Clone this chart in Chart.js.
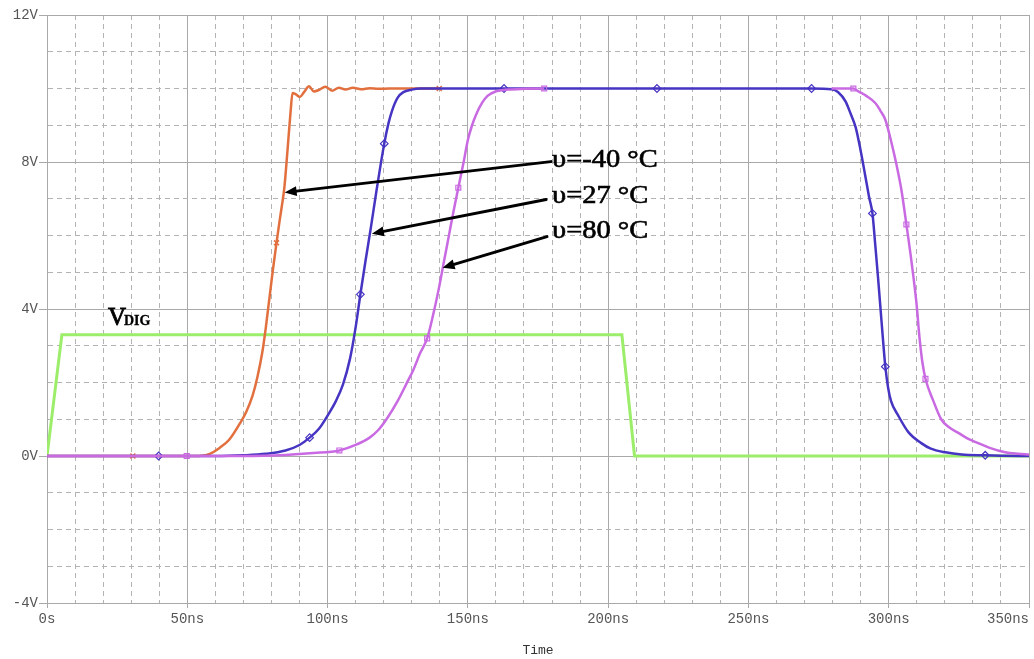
<!DOCTYPE html>
<html>
<head>
<meta charset="utf-8">
<script src="https://cdn.jsdelivr.net/npm/chart.js@4/dist/chart.umd.min.js"></script>
<style>
  html, body { margin: 0; padding: 0; background: #ffffff; }
  #wrap { width: 1034px; height: 659px; position: relative; }
</style>
</head>
<body>
<div id="wrap"><canvas id="scope" width="1034" height="659"></canvas></div>
<script>
// Transient output voltage (V) vs time (ns) at three temperatures, plus the digital drive signal.
const timeCold = [0, 30.6, 50, 55, 58, 61.5, 65, 68.7, 71, 73.3, 75, 76.8, 78, 79.2, 80.4, 81.8, 82.9, 83.8, 84.6, 85.7, 86.8, 87.5, 88.7, 90.1, 91.6, 93.4, 95.1, 96.9, 99.2, 101.6, 104, 106.4, 109, 112, 115, 118, 122, 130, 139.8];
const voltCold = [0, 0, 0, 0.01, 0.06, 0.22, 0.45, 0.88, 1.2, 1.65, 2.15, 2.85, 3.5, 4.25, 5.0, 5.8, 6.4, 6.85, 7.3, 8.3, 9.35, 9.88, 9.84, 9.77, 9.9, 10.06, 9.92, 9.96, 10.05, 9.94, 10.02, 9.97, 10.02, 9.98, 10.01, 9.99, 10.0, 10.0, 10.0];

const timeRoom = [0, 39.8, 60, 70, 78, 85, 90, 93.6, 97, 100, 103, 105.5, 108, 110, 111.7, 113.5, 115.4, 117.5, 120.2, 121.7, 123, 125, 127, 130, 133, 162.9, 217.4, 272.5, 279.6, 282, 284.6, 286.5, 288.2, 289.9, 291.7, 293, 294.2, 295.2, 296.2, 297.4, 298.8, 299.8, 300.8, 303.4, 307, 311.6, 315, 320.2, 326, 334.4, 340, 350];
const voltRoom = [0, 0, 0, 0.02, 0.06, 0.15, 0.3, 0.5, 0.75, 1.1, 1.5, 1.95, 2.65, 3.5, 4.4, 5.3, 6.2, 7.25, 8.5, 9.05, 9.4, 9.75, 9.9, 9.97, 10, 10, 10, 10, 9.98, 9.9, 9.65, 9.3, 8.95, 8.35, 7.6, 7.05, 6.6, 5.75, 4.85, 3.7, 2.43, 1.85, 1.5, 1.1, 0.65, 0.35, 0.2, 0.1, 0.04, 0.02, 0.01, 0];

const timeHot = [0, 49.8, 70, 85, 95, 104.2, 110, 115, 118, 121, 125, 128, 130.6, 133, 135.5, 137.5, 139.5, 141.5, 143, 145, 146.6, 148.5, 150, 151.5, 153, 155, 157, 160, 164.4, 170, 177.2, 279.6, 287.4, 289.2, 292, 295.3, 297, 298.8, 300.9, 302.7, 304.5, 306.3, 308.1, 309.9, 311.0, 312.0, 313.1, 315.9, 318.7, 321.5, 324.8, 328, 331.9, 336, 341.5, 346, 350];
const voltHot = [0, 0, 0, 0.03, 0.08, 0.15, 0.3, 0.5, 0.7, 1.0, 1.5, 1.95, 2.35, 2.8, 3.2, 3.8, 4.5, 5.3, 5.9, 6.7, 7.3, 8.0, 8.6, 9.0, 9.3, 9.6, 9.8, 9.92, 9.97, 9.99, 10, 10, 10, 9.92, 9.8, 9.6, 9.4, 9.15, 8.55, 7.95, 7.25, 6.3, 5.3, 4.15, 3.2, 2.55, 2.1, 1.5, 1.0, 0.78, 0.63, 0.48, 0.35, 0.22, 0.1, 0.06, 0.04];

const timeDig = [0, 5.3, 204.9, 209.4, 350];
const voltDig = [0, 3.3, 3.3, 0, 0];

// Simulator sample markers (ns)
const markCold = [30.6, 81.8, 139.8];
const markRoom = [39.8, 93.6, 111.7, 120.2, 162.9, 217.4, 272.5, 294.2, 298.8, 334.4];
const markHot = [49.8, 104.2, 135.5, 146.6, 177.2, 287.4, 306.3, 313.1];

// Axis tick text
const xTickText = ['0s', '50ns', '100ns', '150ns', '200ns', '250ns', '300ns', '350ns'];
const yTickText = ['-4V', '0V', '4V', '8V', '12V'];

// Temperature callouts: text, label anchor (ns, V), arrow tail and tip (ns, V)
const tempText = ['υ=-40 °C', 'υ=27 °C', 'υ=80 °C'];
const tempAnchorT = [180.0, 180.0, 180.0];
const tempAnchorV = [8.04, 7.06, 6.10];
const arrowTailT = [179.6, 177.9, 178.2];
const arrowTailV = [8.01, 6.98, 5.97];
const arrowTipT = [84.7, 115.8, 141.0];
const arrowTipV = [7.17, 6.05, 5.12];

const digLabelT = 21.7;
const digLabelV = 3.57;

const MONO = '"Liberation Mono", "Courier New", monospace';
const SERIF = '"Liberation Serif", "Times New Roman", serif';

const zip = (ts, vs) => ts.map((t, i) => ({ x: t, y: vs[i] }));
const markerRadius = (marks, r) => ctx => (ctx.raw && marks.includes(ctx.raw.x)) ? r : 0;

const COLD = '#e2703f';
const ROOM = '#4634c2';
const HOT = '#c96ae2';
const DIG = '#9cee6a';

// Filled + lightly stroked text, for a slightly heavier serif look
function heavyText(ctx, str, x, y) {
  ctx.fillText(str, x, y);
  ctx.strokeText(str, x, y);
}

const callouts = {
  id: 'callouts',
  afterDatasetsDraw(chart) {
    const { ctx, scales: { x, y } } = chart;
    ctx.save();
    // arrows
    ctx.strokeStyle = '#000';
    ctx.fillStyle = '#000';
    ctx.lineWidth = 3;
    ctx.lineCap = 'round';
    for (let i = 0; i < tempText.length; i++) {
      const x0 = x.getPixelForValue(arrowTailT[i]);
      const y0 = y.getPixelForValue(arrowTailV[i]);
      const x1 = x.getPixelForValue(arrowTipT[i]);
      const y1 = y.getPixelForValue(arrowTipV[i]);
      const ang = Math.atan2(y1 - y0, x1 - x0);
      const headLen = 12, headHalf = 5;
      const bx = x1 - headLen * Math.cos(ang);
      const by = y1 - headLen * Math.sin(ang);
      ctx.beginPath();
      ctx.moveTo(x0, y0);
      ctx.lineTo(bx, by);
      ctx.stroke();
      ctx.beginPath();
      ctx.moveTo(x1, y1);
      ctx.lineTo(bx + headHalf * Math.sin(ang), by - headHalf * Math.cos(ang));
      ctx.lineTo(bx - headHalf * Math.sin(ang), by + headHalf * Math.cos(ang));
      ctx.closePath();
      ctx.fill();
    }
    // temperature labels
    ctx.lineWidth = 0.6;
    ctx.lineCap = 'butt';
    ctx.textBaseline = 'middle';
    ctx.textAlign = 'left';
    ctx.font = '25px ' + SERIF;
    for (let i = 0; i < tempText.length; i++) {
      const px = x.getPixelForValue(tempAnchorT[i]);
      const py = y.getPixelForValue(tempAnchorV[i]);
      ctx.save();
      ctx.translate(px, py);
      ctx.scale(1.14, 1);
      heavyText(ctx, tempText[i], 0, 0);
      ctx.restore();
    }
    // V_DIG label
    const dx = x.getPixelForValue(digLabelT);
    const dy = y.getPixelForValue(digLabelV);
    ctx.textBaseline = 'alphabetic';
    ctx.font = '25px ' + SERIF;
    ctx.lineWidth = 0.8;
    heavyText(ctx, 'V', dx, dy);
    const vw = ctx.measureText('V').width;
    ctx.font = 'bold 14px ' + SERIF;
    ctx.lineWidth = 0.3;
    heavyText(ctx, 'DIG', dx + vw - 2, dy);
    ctx.restore();
  }
};

const isMajorX = v => Math.abs(v % 50) < 1e-6;
const isMajorY = v => Math.abs(((v % 4) + 4) % 4) < 1e-6;

new Chart(document.getElementById('scope'), {
  type: 'line',
  data: {
    datasets: [
      {
        label: 'υ=80 °C',
        data: zip(timeHot, voltHot),
        borderColor: HOT,
        borderWidth: 2.5,
        cubicInterpolationMode: 'monotone',
        pointStyle: 'rect',
        pointRadius: markerRadius(markHot, 3.5),
        pointBorderColor: HOT,
        pointBackgroundColor: 'rgba(255,255,255,0)',
        pointBorderWidth: 1.2,
        segment: {
          // plateau shared with the 27 °C trace is left to that trace
          borderColor: s => (s.p0.parsed.x >= 177 && s.p1.parsed.x <= 280) ? 'rgba(0,0,0,0)' : HOT
        }
      },
      {
        label: 'υ=27 °C',
        data: zip(timeRoom, voltRoom),
        borderColor: ROOM,
        borderWidth: 2.5,
        cubicInterpolationMode: 'monotone',
        pointStyle: 'rectRot',
        pointRadius: markerRadius(markRoom, 3.8),
        pointBorderColor: ROOM,
        pointBackgroundColor: 'rgba(255,255,255,0)',
        pointBorderWidth: 1.2
      },
      {
        label: 'υ=-40 °C',
        data: zip(timeCold, voltCold),
        borderColor: COLD,
        borderWidth: 2.5,
        cubicInterpolationMode: 'monotone',
        pointStyle: 'crossRot',
        pointRadius: markerRadius(markCold, 3.5),
        pointBorderColor: COLD,
        pointBorderWidth: 1.5
      },
      {
        label: 'VDIG',
        data: zip(timeDig, voltDig),
        borderColor: DIG,
        borderWidth: 3,
        tension: 0,
        pointRadius: 0
      }
    ]
  },
  options: {
    responsive: false,
    animation: false,
    devicePixelRatio: 1,
    events: [],
    layout: { padding: { top: 15, right: 3, left: 0, bottom: 0 } },
    plugins: { legend: { display: false }, tooltip: { enabled: false } },
    elements: { point: { hoverRadius: 0 } },
    scales: {
      x: {
        type: 'linear',
        min: 0,
        max: 350,
        ticks: {
          stepSize: 10,
          autoSkip: false,
          maxRotation: 0,
          minRotation: 0,
          padding: 3,
          color: '#555',
          font: { family: MONO, size: 14 },
          callback: v => {
            if (!isMajorX(v)) return '';
            const s = xTickText[Math.round(v / 50)];
            return v >= 350 ? s + '     ' : s;
          }
        },
        grid: {
          color: c => (c.tick && isMajorX(c.tick.value)) ? '#a9a9a9' : '#b3b3b3',
          lineWidth: 1,
          tickLength: 5,
          tickColor: c => (c.tick && isMajorX(c.tick.value)) ? '#a9a9a9' : 'rgba(0,0,0,0)'
        },
        border: {
          display: true,
          color: '#a9a9a9',
          dash: c => (c.tick && !isMajorX(c.tick.value)) ? [5, 4] : []
        },
        title: {
          display: true,
          text: 'Time',
          color: '#333',
          font: { family: MONO, size: 13 },
          padding: { top: 0, bottom: 1 }
        },
        afterFit: s => { s.height = 56; s.paddingLeft = 0; s.paddingRight = 0; }
      },
      y: {
        type: 'linear',
        min: -4,
        max: 12,
        ticks: {
          stepSize: 1,
          autoSkip: false,
          padding: 1,
          color: '#555',
          font: { family: MONO, size: 14 },
          callback: v => isMajorY(v) ? yTickText[Math.round((v + 4) / 4)] : ''
        },
        grid: {
          color: c => (c.tick && isMajorY(c.tick.value)) ? '#a9a9a9' : '#b3b3b3',
          lineWidth: 1,
          tickLength: 8,
          tickColor: c => (c.tick && isMajorY(c.tick.value)) ? '#a9a9a9' : 'rgba(0,0,0,0)'
        },
        border: {
          display: true,
          color: '#a9a9a9',
          dash: c => (c.tick && !isMajorY(c.tick.value)) ? [5, 4] : []
        },
        afterFit: s => { s.width = 47; s.paddingTop = 0; s.paddingBottom = 0; }
      }
    }
  },
  plugins: [callouts]
});
</script>
</body>
</html>
